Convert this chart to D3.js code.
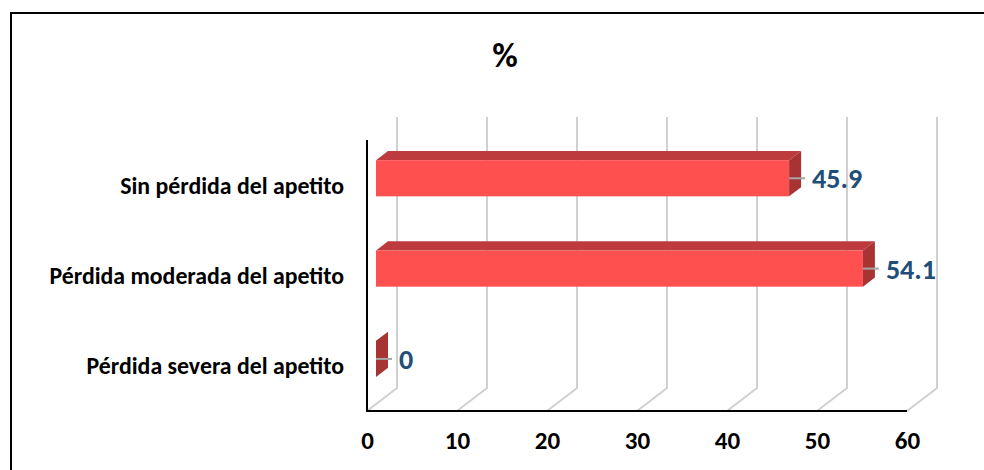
<!DOCTYPE html>
<html>
<head>
<meta charset="utf-8">
<script src="https://cdn.jsdelivr.net/npm/d3@7/dist/d3.min.js"></script>
<style>
  html, body { margin: 0; padding: 0; background: #fff; }
  svg { display: block; }
  text { font-family: Carlito, Lato, "Open Sans", sans-serif; font-weight: bold; }
</style>
</head>
<body>
<svg id="chart" width="984" height="470"></svg>
<script>
// Categories (top to bottom) and their percentages
const categories = ["Sin pérdida del apetito", "Pérdida moderada del apetito", "Pérdida severa del apetito"];
const values = [45.9, 54.1, 0];
const tickValues = [0, 10, 20, 30, 40, 50, 60];
const chartTitle = "%";

const svg = d3.select("#chart");
const W = 984, H = 470;
const FONT = "Carlito, Lato, 'Open Sans', sans-serif";

// Frame around the chart area
svg.append("path")
  .attr("d", `M11,${H + 5} L11,13 L${W + 5},13`)
  .attr("fill", "none").attr("stroke", "#000").attr("stroke-width", 2);

// Front plane of the 3-D plot
const plot = { left: 367, right: 907, top: 140, bottom: 411 };
// Depth offset of the back wall
const depth = { dx: 30, dy: -23 };
// Bars occupy the middle slice of the depth
const barDepth0 = 0.3, barDepth1 = 0.7;

const x = d3.scaleLinear().domain([0, 60]).range([plot.left, plot.right]);
const y = d3.scaleBand().domain(categories).range([plot.top, plot.bottom])
  .paddingInner(0.6).paddingOuter(0.3);

// Title
svg.append("text")
  .attr("x", 505).attr("y", 67)
  .attr("text-anchor", "middle")
  .attr("font-size", 35)
  .attr("fill", "#000")
  .text(chartTitle);

// Gridlines: back wall verticals and floor diagonals
const grid = svg.append("g").attr("stroke", "#D0D0D0").attr("stroke-width", 2).attr("fill", "none");
tickValues.forEach(t => {
  const xf = x(t), xb = x(t) + depth.dx;
  grid.append("path")
    .attr("d", `M${xf},${plot.bottom} L${xb},${plot.bottom + depth.dy} L${xb},${plot.top + depth.dy}`);
});

// Bars (front, top and right-side faces)
const ox0 = depth.dx * barDepth0, oy0 = depth.dy * barDepth0;
const ox1 = depth.dx * barDepth1, oy1 = depth.dy * barDepth1;
const bars = svg.append("g");
categories.forEach((c, i) => {
  const v = values[i];
  const xa = x(0) + ox0, xb = x(v) + ox0;
  const yt = y(c) + oy0, yb = y(c) + y.bandwidth() + oy0;
  const ddx = ox1 - ox0, ddy = oy1 - oy0;
  if (v > 0) {
    bars.append("path")
      .attr("d", `M${xa},${yt} L${xb},${yt} L${xb + ddx},${yt + ddy} L${xa + ddx},${yt + ddy} Z`)
      .attr("fill", "#BE3B3D");
    bars.append("rect")
      .attr("x", xa).attr("y", yt)
      .attr("width", xb - xa).attr("height", yb - yt)
      .attr("fill", "#FF5050");
  }
  bars.append("path")
    .attr("d", `M${xb},${yt} L${xb + ddx},${yt + ddy} L${xb + ddx},${yb + ddy} L${xb},${yb} Z`)
    .attr("fill", "#A83333");
});

// Axes lines (front)
svg.append("line")
  .attr("x1", plot.left).attr("x2", plot.left)
  .attr("y1", plot.top).attr("y2", plot.bottom + 1)
  .attr("stroke", "#000").attr("stroke-width", 2);
svg.append("line")
  .attr("x1", plot.left - 1).attr("x2", plot.right)
  .attr("y1", plot.bottom).attr("y2", plot.bottom)
  .attr("stroke", "#000").attr("stroke-width", 2);

// Value axis tick labels
const xAxis = d3.axisBottom(x).tickValues(tickValues).tickSize(0).tickPadding(0).tickFormat(d3.format("d"));
const gx = svg.append("g").attr("transform", `translate(0,${plot.bottom})`).call(xAxis);
gx.select(".domain").remove();
gx.selectAll("text")
  .attr("dy", null).attr("y", 38)
  .attr("font-size", 25).attr("fill", "#000")
  .style("font-family", FONT).style("font-weight", "bold");

// Category labels
const yAxis = d3.axisLeft(y).tickSize(0).tickPadding(0);
const gy = svg.append("g").attr("transform", `translate(344,0)`).call(yAxis);
gy.select(".domain").remove();
gy.selectAll("text")
  .attr("dy", "0.35em")
  .attr("font-size", 23.8).attr("fill", "#000")
  .style("font-family", FONT).style("font-weight", "bold");

// Data labels with leader lines
const labels = svg.append("g");
categories.forEach((c, i) => {
  const v = values[i];
  const cy = y(c) + y.bandwidth() / 2 + oy0;
  const xe = x(v) + ox0;
  labels.append("line")
    .attr("x1", xe).attr("x2", xe + 16)
    .attr("y1", cy).attr("y2", cy)
    .attr("stroke", "#A6A6A6").attr("stroke-width", 2);
  labels.append("text")
    .attr("x", xe + 23).attr("y", cy)
    .attr("dy", "0.36em")
    .attr("font-size", 28)
    .attr("fill", "#1F4E79")
    .text(d3.format(".1~f")(v));
});
</script>
</body>
</html>
